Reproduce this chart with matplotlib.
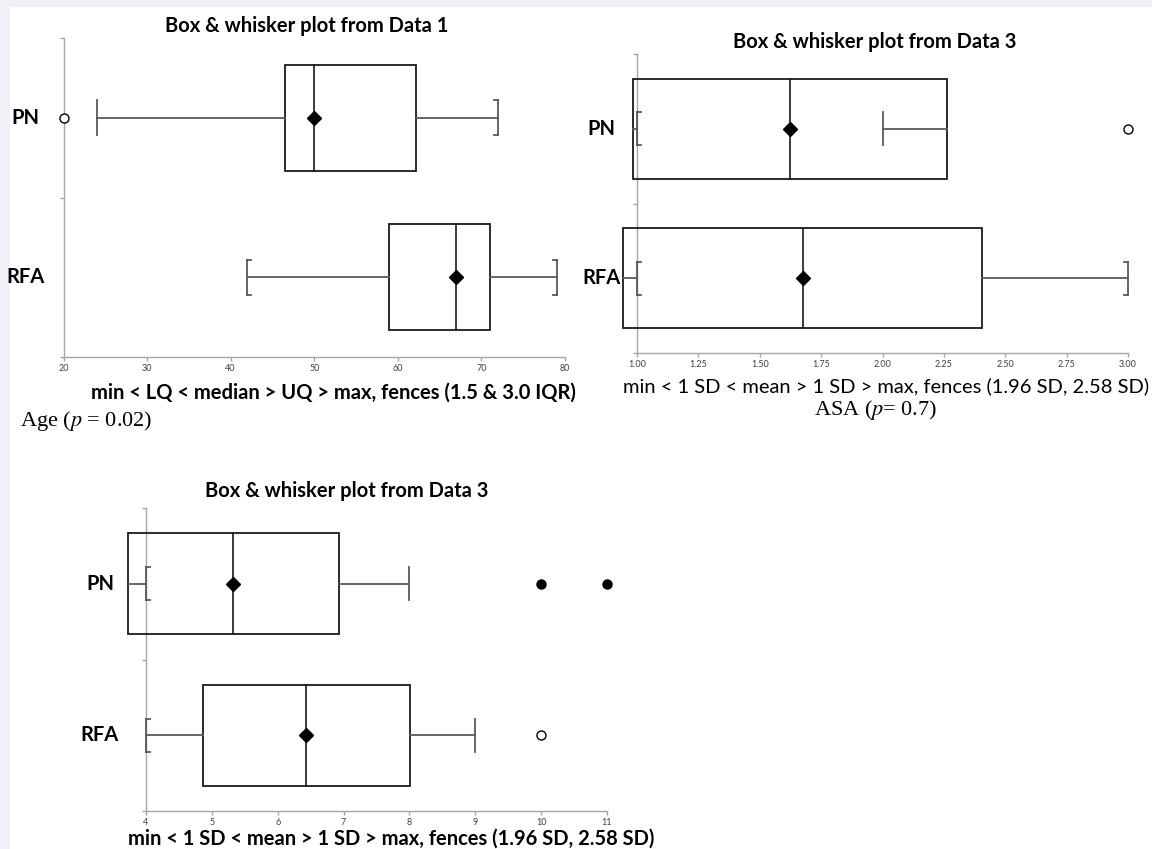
import matplotlib
matplotlib.use("Agg")
import matplotlib.pyplot as plt
from matplotlib.patches import Rectangle

plt.rcParams["mathtext.fontset"] = "stix"

W, H = 1152, 849
DPI = 100

# ---------------- data ----------------
categories = ["PN", "RFA"]

# Panel 1 : Age
age_box_lo = [46.5, 59.0]
age_box_hi = [62.2, 71.0]
age_median = [50.0, 67.0]
age_mean = [50.0, 67.0]
age_wlo = [24.0, 42.0]
age_whi = [72.0, 79.0]
age_cap_lo = ["plain", "bracket"]
age_cap_hi = ["bracket", "bracket"]
age_out_open = [[20.0], []]
age_out_filled = [[], []]
age_xticks = [20, 30, 40, 50, 60, 70, 80]
age_xticklabels = ["20", "30", "40", "50", "60", "70", "80"]

# Panel 2 : ASA
asa_box_lo = [0.985, 0.945]
asa_box_hi = [2.264, 2.407]
asa_median = [1.623, 1.677]
asa_mean = [1.623, 1.677]
asa_wlo = [1.0, 1.0]
asa_whi = [2.0, 3.0]
asa_cap_lo = ["bracket", "bracket"]
asa_cap_hi = ["plain", "bracket"]
asa_out_open = [[3.0], []]
asa_out_filled = [[], []]
asa_xticks = [1.0, 1.25, 1.5, 1.75, 2.0, 2.25, 2.5, 2.75, 3.0]
asa_xticklabels = ["1.00", "1.25", "1.50", "1.75", "2.00", "2.25", "2.50", "2.75", "3.00"]

# Panel 3
p3_box_lo = [3.733, 4.868]
p3_box_hi = [6.926, 8.011]
p3_median = [5.327, 6.436]
p3_mean = [5.327, 6.436]
p3_wlo = [4.0, 4.0]
p3_whi = [8.0, 9.0]
p3_cap_lo = ["bracket", "bracket"]
p3_cap_hi = ["plain", "plain"]
p3_out_open = [[], [10.0]]
p3_out_filled = [[10.0, 11.0], []]
p3_xticks = [4, 5, 6, 7, 8, 9, 10, 11]
p3_xticklabels = ["4", "5", "6", "7", "8", "9", "10", "11"]

titles = ["Box & whisker plot from Data 1", "Box & whisker plot from Data 3",
          "Box & whisker plot from Data 3"]
xlabels = ["min < LQ < median > UQ > max, fences (1.5 & 3.0 IQR)",
           "min < 1 SD < mean > 1 SD > max, fences (1.96 SD, 2.58 SD)",
           "min < 1 SD < mean > 1 SD > max, fences (1.96 SD, 2.58 SD)"]

SANS = ["Lato", "DejaVu Sans"]
SERIF = ["Liberation Serif", "DejaVu Serif"]
FS = 14.5

fig = plt.figure(figsize=(W / DPI, H / DPI), dpi=DPI, facecolor="#eff1f6")
fig.patches.append(Rectangle((10 / W, 0), 1 - 10 / W, 1 - 7 / H, transform=fig.transFigure,
                             facecolor="white", edgecolor="none", zorder=-10))


def px_axes(left, top, right, bottom):
    return fig.add_axes([left / W, 1 - bottom / H, (right - left) / W, (bottom - top) / H])


def fig_text(x, y, s, **kw):
    fig.text(x / W, 1 - y / H, s, **kw)


def draw_panel(ax, xlim, box_lo, box_hi, med, mean, wlo, whi, cap_lo, cap_hi,
               out_open, out_filled, xticks, xticklabels, axw_px):
    ax.set_xlim(*xlim)
    ax.set_ylim(1.5, -0.5)
    ax.set_facecolor("none")
    for s in ["top", "right"]:
        ax.spines[s].set_visible(False)
    for s in ["left", "bottom"]:
        ax.spines[s].set_color("#a6a6a6")
        ax.spines[s].set_linewidth(1.0)
    ax.set_xticks(xticks)
    ax.set_xticklabels(xticklabels, fontsize=6.5, color="#404040", family=SANS)
    ax.set_yticks([-0.5, 0.5, 1.5])
    ax.set_yticklabels([])
    ax.tick_params(axis="both", length=3, width=1.0, color="#a6a6a6", pad=2)
    dx = 4.0 * (xlim[1] - xlim[0]) / axw_px
    half_box = 0.333
    half_cap = 0.11
    box_col = "#1a1a1a"
    wh_col = "#595959"
    for i in range(len(box_lo)):
        y = i
        ax.add_patch(Rectangle((box_lo[i], y - half_box), box_hi[i] - box_lo[i], 2 * half_box,
                               facecolor="none", edgecolor=box_col, linewidth=1.3,
                               zorder=3, clip_on=False))
        ax.plot([med[i], med[i]], [y - half_box, y + half_box], color=box_col, lw=1.2,
                zorder=4, clip_on=False)
        ax.plot([wlo[i], box_lo[i]], [y, y], color=wh_col, lw=1.3, zorder=4, clip_on=False)
        ax.plot([box_hi[i], whi[i]], [y, y], color=wh_col, lw=1.3, zorder=4, clip_on=False)
        for xv, style, sgn in [(wlo[i], cap_lo[i], 1), (whi[i], cap_hi[i], -1)]:
            ax.plot([xv, xv], [y - half_cap, y + half_cap], color=wh_col, lw=1.3,
                    zorder=4, clip_on=False)
            if style == "bracket":
                for yy in (y - half_cap, y + half_cap):
                    ax.plot([xv, xv + sgn * dx], [yy, yy], color=wh_col, lw=1.3,
                            zorder=4, clip_on=False)
        ax.plot([mean[i]], [y], marker="D", ms=7, color="black", zorder=6, clip_on=False)
        for xv in out_open[i]:
            ax.plot([xv], [y], marker="o", ms=6.5, mfc="white", mec="black", mew=1.0,
                    zorder=6, clip_on=False)
        for xv in out_filled[i]:
            ax.plot([xv], [y], marker="o", ms=6.5, mfc="black", mec="black", zorder=6,
                    clip_on=False)


# ---------- Panel 1 ----------
ax1 = px_axes(63.5, 38, 565, 357)
draw_panel(ax1, (20, 80), age_box_lo, age_box_hi, age_median, age_mean, age_wlo, age_whi,
           age_cap_lo, age_cap_hi, age_out_open, age_out_filled, age_xticks,
           age_xticklabels, 565 - 63.5)
for i, c in enumerate(categories):
    ax1.text(-38 / (565 - 63.5), 0.75 - 0.5 * i, c, transform=ax1.transAxes, ha="center",
             va="center", fontsize=FS, fontweight="bold", family=SANS)
fig_text(307, 26, titles[0], ha="center", va="center", fontsize=FS, fontweight="bold",
         family=SANS)
fig_text(333, 393, xlabels[0], ha="center", va="center", fontsize=FS, fontweight="bold",
         family=SANS)
fig_text(20, 421, "Age ($\\it{p}$ = 0.02)", ha="left", va="center", fontsize=16,
         family=SERIF)

# ---------- Panel 2 ----------
ax2 = px_axes(637, 54, 1128, 353)
draw_panel(ax2, (1.0, 3.0), asa_box_lo, asa_box_hi, asa_median, asa_mean, asa_wlo, asa_whi,
           asa_cap_lo, asa_cap_hi, asa_out_open, asa_out_filled, asa_xticks,
           asa_xticklabels, 1128 - 637)
for i, c in enumerate(categories):
    ax2.text(-36 / (1128 - 637), 0.75 - 0.5 * i, c, transform=ax2.transAxes, ha="center",
             va="center", fontsize=FS, fontweight="bold", family=SANS)
fig_text(875, 42, titles[1], ha="center", va="center", fontsize=FS, fontweight="bold",
         family=SANS)
fig_text(886, 386, xlabels[1], ha="center", va="center", fontsize=FS, family=SANS)
fig_text(876, 410, "ASA ($\\it{p}$= 0.7)", ha="center", va="center", fontsize=16,
         family=SERIF)

# ---------- Panel 3 ----------
ax3 = px_axes(146, 508, 607, 811)
draw_panel(ax3, (4, 11), p3_box_lo, p3_box_hi, p3_median, p3_mean, p3_wlo, p3_whi,
           p3_cap_lo, p3_cap_hi, p3_out_open, p3_out_filled, p3_xticks,
           p3_xticklabels, 607 - 146)
for i, c in enumerate(categories):
    ax3.text(-46 / (607 - 146), 0.75 - 0.5 * i, c, transform=ax3.transAxes, ha="center",
             va="center", fontsize=FS, fontweight="bold", family=SANS)
fig_text(347, 491, titles[2], ha="center", va="center", fontsize=FS, fontweight="bold",
         family=SANS)
fig_text(128, 839, xlabels[2], ha="left", va="center", fontsize=FS, fontweight="bold",
         family=SANS)

fig.savefig("out.png", dpi=DPI, facecolor=fig.get_facecolor())
